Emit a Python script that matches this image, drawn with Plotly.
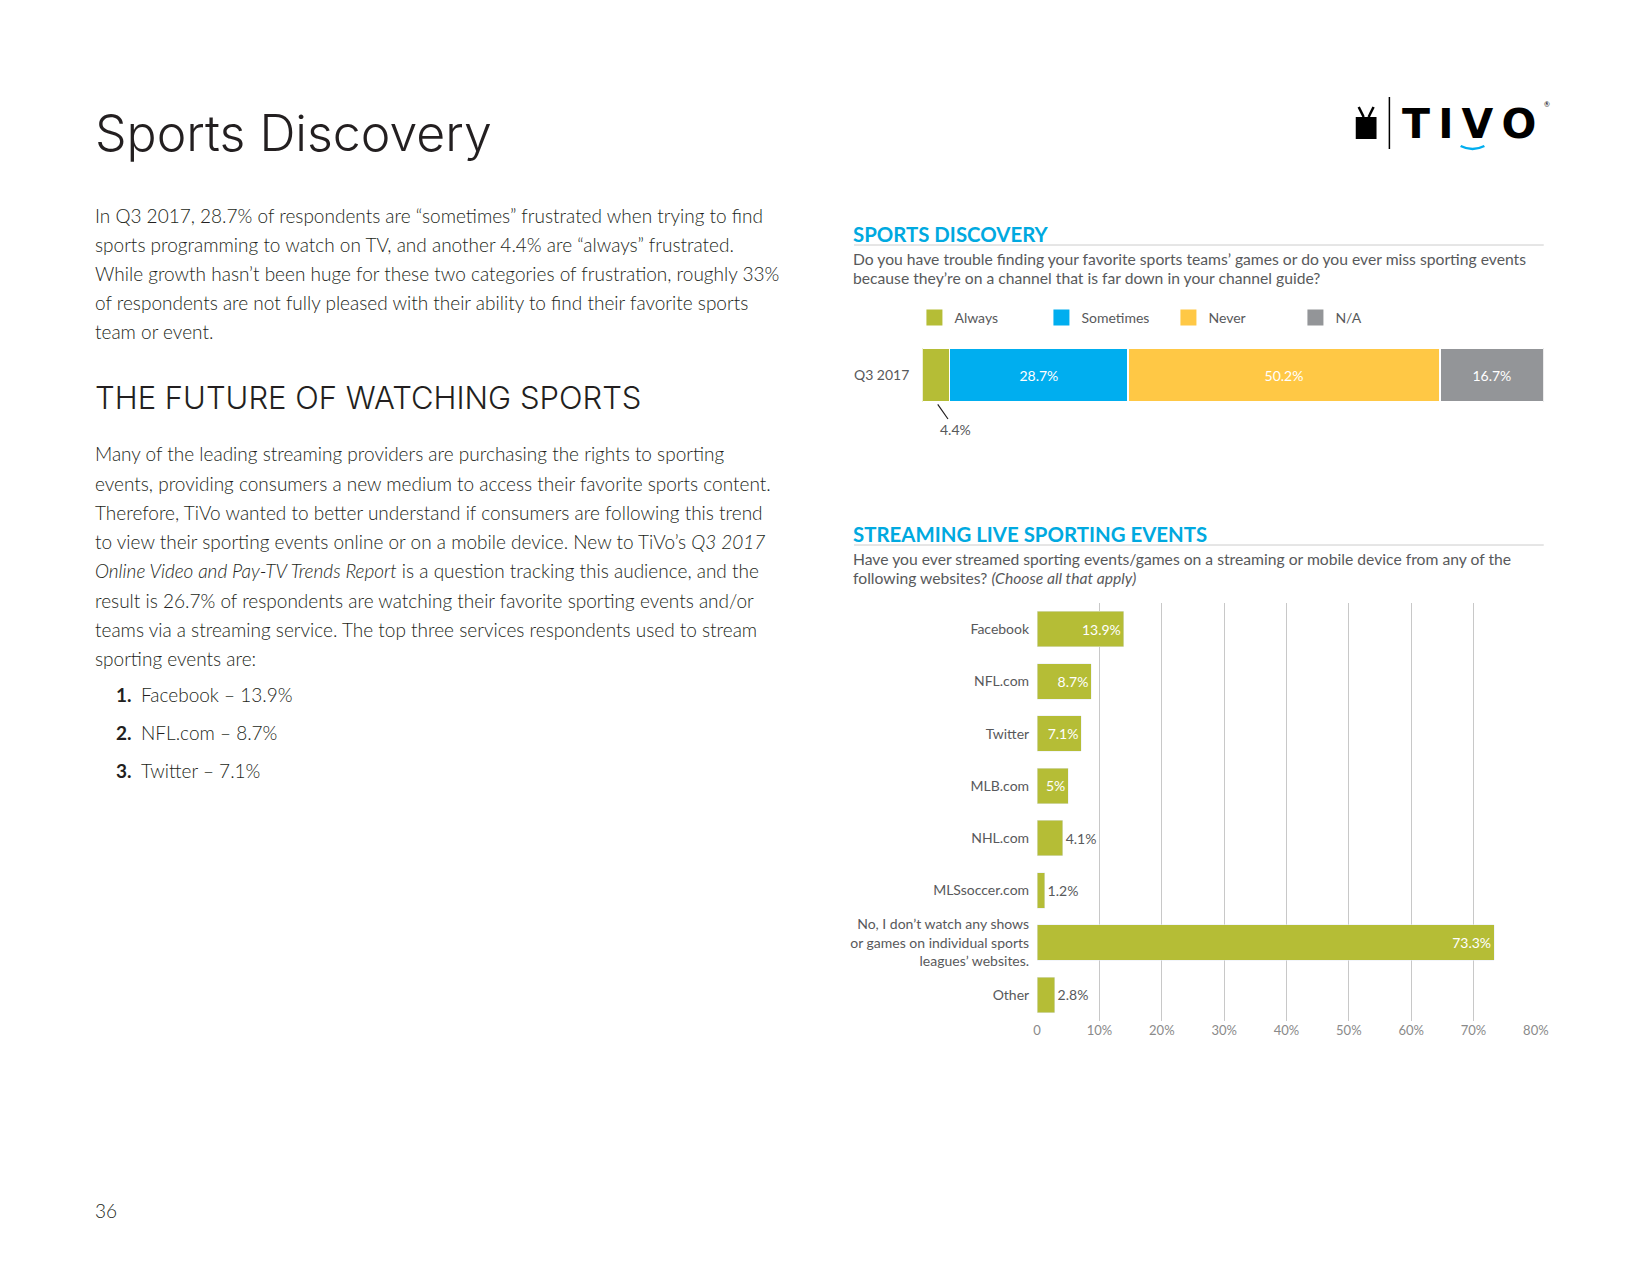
import plotly.graph_objects as go

# ---- data ----
discovery_labels = ["Always", "Sometimes", "Never", "N/A"]
discovery_values = [4.4, 28.7, 50.2, 16.7]
discovery_colors = ["#b5bd36", "#00aeef", "#ffc845", "#939598"]
discovery_period = ["Q3 2017"]

streaming_sites = [
    "Facebook",
    "NFL.com",
    "Twitter",
    "MLB.com",
    "NHL.com",
    "MLSsoccer.com",
    "No, I don’t watch any shows<br>or games on individual sports<br>leagues’ websites.",
    "Other",
]
streaming_values = [13.9, 8.7, 7.1, 5, 4.1, 1.2, 73.3, 2.8]
streaming_text_inside = [True, True, True, True, False, False, True, False]

x_ticks = [0, 10, 20, 30, 40, 50, 60, 70, 80]
x_ticklabels = ["0", "10%", "20%", "30%", "40%", "50%", "60%", "70%", "80%"]

para1 = [
    "In Q3 2017, 28.7% of respondents are “sometimes” frustrated when trying to find",
    "sports programming to watch on TV, and another 4.4% are “always” frustrated.",
    "While growth hasn’t been huge for these two categories of frustration, roughly 33%",
    "of respondents are not fully pleased with their ability to find their favorite sports",
    "team or event.",
]
para2 = [
    "Many of the leading streaming providers are purchasing the rights to sporting",
    "events, providing consumers a new medium to access their favorite sports content.",
    "Therefore, TiVo wanted to better understand if consumers are following this trend",
    "to view their sporting events online or on a mobile device. New to TiVo’s <i>Q3 2017</i>",
    "<i>Online Video and Pay-TV Trends Report</i> is a question tracking this audience, and the",
    "result is 26.7% of respondents are watching their favorite sporting events and/or",
    "teams via a streaming service. The top three services respondents used to stream",
    "sporting events are:",
]

# page geometry (page pixels, body margin of 8px); figure kept smaller than
# the window so the page never scrolls
W, H, OFF = 1620, 1240, 8


def fx(px):
    return (px - OFF) / W


def fy(py):
    return 1 - (py - OFF) / H


BLUE = "#00a9e0"
TEXT = "#231f20"
GREY_TXT = "#58595b"

fig = go.Figure()

# stacked bar
for i in range(len(discovery_labels)):
    fig.add_trace(
        go.Bar(
            x=[discovery_values[i]],
            y=discovery_period,
            orientation="h",
            name=discovery_labels[i],
            marker={"color": discovery_colors[i], "line": {"color": "white", "width": 1.5}},
            width=1,
            text=[f"{discovery_values[i]:g}%"],
            textposition="none" if i == 0 else "inside",
            insidetextanchor="middle",
            textfont={"color": "white", "size": 14, "family": "Lato"},
            constraintext="none",
            showlegend=False,
            xaxis="x",
            yaxis="y",
        )
    )
    # legend entry with a bigger square swatch
    fig.add_trace(
        go.Scatter(
            x=[None],
            y=[None],
            mode="markers",
            name=discovery_labels[i],
            marker={"color": discovery_colors[i], "symbol": "square", "size": 18},
            xaxis="x",
            yaxis="y",
        )
    )

# streaming bar
fig.add_trace(
    go.Bar(
        x=streaming_values,
        y=streaming_sites,
        orientation="h",
        width=0.68,
        marker={"color": "#b5bd36"},
        text=[f"{v:g}%" for v in streaming_values],
        textposition=["inside" if t else "outside" for t in streaming_text_inside],
        insidetextanchor="end",
        insidetextfont={"color": "white", "size": 14, "family": "Lato"},
        outsidetextfont={"color": GREY_TXT, "size": 14, "family": "Lato"},
        constraintext="none",
        cliponaxis=False,
        showlegend=False,
        xaxis="x2",
        yaxis="y2",
    )
)

annotations = []


def add_text(x, y, text, size, color=TEXT, family="Lato", weight=300, xanchor="left", yanchor="middle"):
    annotations.append(
        dict(
            x=fx(x), y=fy(y), xref="paper", yref="paper",
            text=text, showarrow=False, xanchor=xanchor, yanchor=yanchor,
            align="left" if xanchor == "left" else "right",
            font={"size": size, "color": color, "family": family, "weight": weight},
        )
    )


# page title and left column
add_text(90, 133, "Sports Discovery", 50, family="Inter", weight=300)
for i, line in enumerate(para1):
    add_text(90, 215 + 29.2 * i, line, 19)
add_text(90, 398, "THE FUTURE OF WATCHING SPORTS", 31, family="Inter", weight=300)
for i, line in enumerate(para2):
    add_text(90, 454 + 29.2 * i, line, 19)
for i in range(3):
    y = 694 + 38 * i
    add_text(111, y, f"<b>{i + 1}.</b>", 19, weight=400)
    add_text(136, y, f"{streaming_sites[i]} – {streaming_values[i]:g}%", 19)
add_text(90, 1210, "36", 19)

# chart headings
add_text(856, 234, "SPORTS DISCOVERY", 20.4, color=BLUE, weight=700)
add_text(856, 259, "Do you have trouble finding your favorite sports teams’ games or do you ever miss sporting events", 15.7, color=GREY_TXT, weight=400)
add_text(856, 278, "because they’re on a channel that is far down in your channel guide?", 15.7, color=GREY_TXT, weight=400)
add_text(856, 534, "STREAMING LIVE SPORTING EVENTS", 20.4, color=BLUE, weight=700)
add_text(856, 559, "Have you ever streamed sporting events/games on a streaming or mobile device from any of the", 15.7, color=GREY_TXT, weight=400)
add_text(856, 578, "following websites? <i>(Choose all that apply)</i>", 15.7, color=GREY_TXT, weight=400)

# 4.4% callout
annotations.append(
    dict(
        x=discovery_values[0] / 2, y=0, xref="x", yref="y domain",
        text=f"{discovery_values[0]:g}%", showarrow=True, arrowhead=0,
        arrowwidth=1.2, arrowcolor=TEXT, ax=19, ay=27, standoff=3,
        font={"size": 14, "color": GREY_TXT, "family": "Lato"},
    )
)

# logo
add_text(1411, 124, "<b>T\u2009I\u2009V\u2009O</b>", 41, color="#000000", family="DejaVu Sans", weight=700)
add_text(1554, 104, "®", 7, color="#000000", weight=400)

shapes = [
    dict(type="line", xref="paper", yref="paper", x0=fx(859), x1=fx(1556), y0=fy(245), y1=fy(245),
         line={"color": "#cccccc", "width": 1}),
    dict(type="line", xref="paper", yref="paper", x0=fx(859), x1=fx(1556), y0=fy(545), y1=fy(545),
         line={"color": "#cccccc", "width": 1}),
    # logo separator and tv icon
    dict(type="line", xref="paper", yref="paper", x0=fx(1400), x1=fx(1400), y0=fy(97), y1=fy(149),
         line={"color": "#000000", "width": 1.5}),
    dict(type="rect", xref="paper", yref="paper", x0=fx(1366), x1=fx(1387), y0=fy(139), y1=fy(117),
         fillcolor="#000000", line={"width": 0}),
    dict(type="line", xref="paper", yref="paper", x0=fx(1369), x1=fx(1374), y0=fy(107), y1=fy(117),
         line={"color": "#000000", "width": 2.5}),
    dict(type="line", xref="paper", yref="paper", x0=fx(1384), x1=fx(1379), y0=fy(107), y1=fy(117),
         line={"color": "#000000", "width": 2.5}),
    dict(type="path", xref="paper", yref="paper",
         path=f"M {fx(1472)} {fy(146)} Q {fx(1484)} {fy(152)} {fx(1496)} {fy(146)}",
         line={"color": "#00aeef", "width": 2.5}),
]

fig.update_layout(
    width=W,
    height=H,
    margin={"l": 0, "r": 0, "t": 0, "b": 0},
    paper_bgcolor="white",
    plot_bgcolor="white",
    barmode="stack",
    font={"family": "Lato", "color": GREY_TXT},
    showlegend=True,
    legend={
        "orientation": "h",
        "x": fx(920), "y": fy(318), "xanchor": "left", "yanchor": "middle",
        "entrywidth": 82, "entrywidthmode": "pixels",
        "itemsizing": "trace",
        "font": {"size": 14, "color": GREY_TXT, "family": "Lato"},
        "traceorder": "normal",
        "bgcolor": "rgba(0,0,0,0)",
    },
    xaxis={
        "domain": [fx(928), fx(1556)], "anchor": "y",
        "range": [0, sum(discovery_values)], "visible": False,
    },
    yaxis={
        "domain": [fy(402), fy(348)], "anchor": "x",
        "showgrid": False, "zeroline": False, "ticks": "",
        "tickfont": {"size": 14, "color": GREY_TXT}, "ticklabelstandoff": 12,
    },
    xaxis2={
        "domain": [fx(1044), fx(1548)], "anchor": "y2",
        "range": [0, 80], "tickvals": x_ticks, "ticktext": x_ticklabels,
        "showgrid": True, "gridcolor": "#c8c8c8", "gridwidth": 1,
        "zeroline": False, "showline": False, "ticks": "",
        "tickfont": {"size": 13, "color": "#8a8a8a"},
    },
    yaxis2={
        "domain": [fy(1021), fy(603)], "anchor": "x2",
        "autorange": "reversed", "showgrid": False, "zeroline": False, "ticks": "",
        "tickfont": {"size": 14, "color": GREY_TXT}, "ticklabelstandoff": 7,
    },
    annotations=annotations,
    shapes=shapes,
)

fig.write_html("out.html")
